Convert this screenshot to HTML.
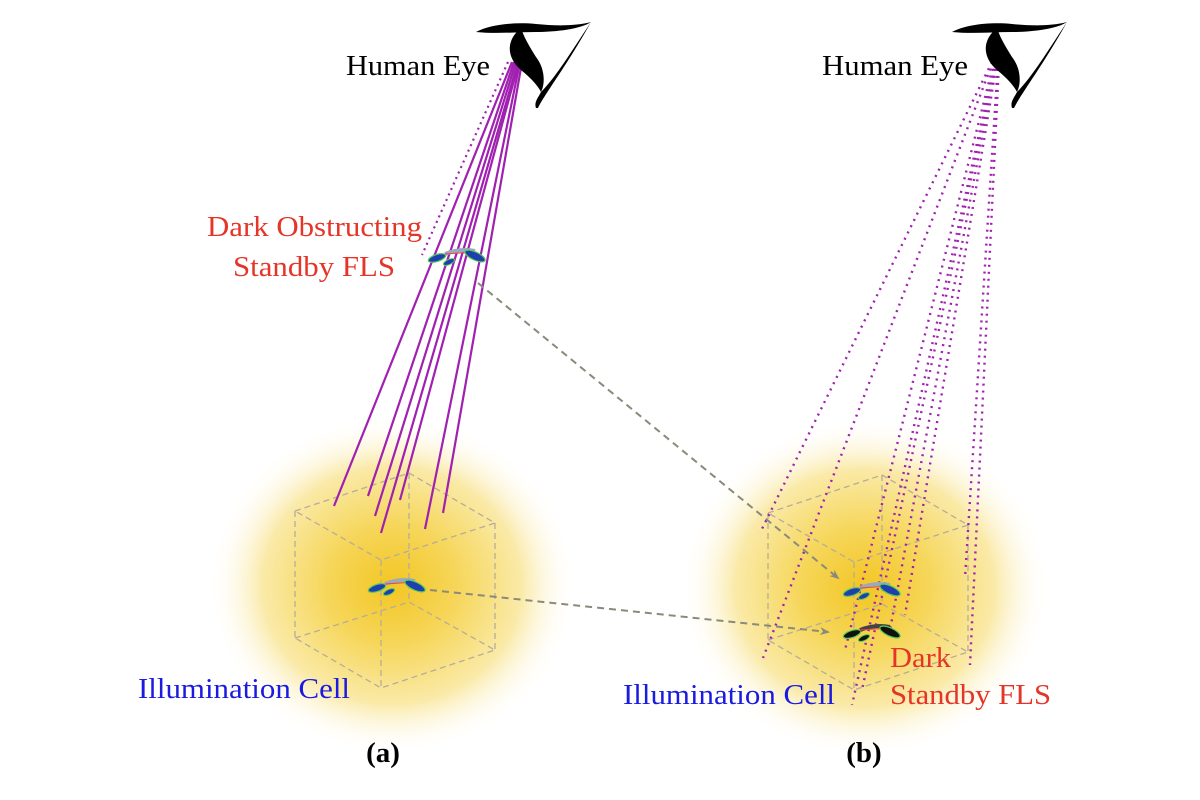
<!DOCTYPE html>
<html><head><meta charset="utf-8"><style>
html,body{margin:0;padding:0;background:#fff}
svg{display:block}
text{font-family:"Liberation Serif",serif}
</style></head><body>
<svg width="1200" height="800" viewBox="0 0 1200 800">
<defs>
<radialGradient id="glow" cx="0.5" cy="0.5" r="0.5">
<stop offset="0" stop-color="#f3c623"/>
<stop offset="0.35" stop-color="#f6d65a"/>
<stop offset="0.7" stop-color="#faeaa8"/>
<stop offset="1" stop-color="#ffffff" stop-opacity="0"/>
</radialGradient>
<marker id="arr" markerWidth="10" markerHeight="8" refX="8" refY="4" orient="auto" markerUnits="userSpaceOnUse">
<path d="M0,0 L10,4 L0,8 L3,4 Z" fill="#8a8a7a"/>
</marker>
<g id="fls">
<ellipse cx="-18" cy="4" rx="9" ry="3.5" transform="rotate(-18 -18 4)" fill="#1f3fb0" stroke="#5c5" stroke-width="1.2"/>
<ellipse cx="-6" cy="8" rx="6" ry="2.5" transform="rotate(-25 -6 8)" fill="#1f3fb0" stroke="#5c5" stroke-width="1"/>
<path d="M-10,0 Q5,-6 20,-3" stroke="#9ab" stroke-width="4" fill="none"/>
<path d="M-10,0 L20,-2" stroke="#e44" stroke-width="1"/>
<ellipse cx="20" cy="2" rx="11" ry="4" transform="rotate(25 20 2)" fill="#1f3fb0" stroke="#5c5" stroke-width="1.2"/>
</g>
<g id="eye">
<path d="M0,0 C15,-8 40,-10 60,-8 C80,-6 100,-6 115,-10 C105,-3 80,0 60,0 C40,0 20,2 0,0 Z" fill="#000"/>
<path d="M45,-4 C30,8 30,25 45,38 C55,46 62,54 65,60 C70,50 68,35 60,25 C52,12 48,5 45,-4 Z" fill="#000"/>
<path d="M115,-10 C95,20 80,45 65,60 C62,66 58,70 60,76 L62,76 C70,60 90,35 115,-10 Z" fill="#000"/>
</g>
</defs>

<ellipse cx="392" cy="585" rx="185" ry="170" fill="url(#glow)"/>
<ellipse cx="865" cy="588" rx="185" ry="170" fill="url(#glow)"/>

<g fill="none" stroke="#b5ad98" stroke-width="1.3" stroke-dasharray="6,4">
<path d="M295,511 L409,473 L495,523 L381,560 Z"/>
<path d="M295,638 L409,602 L495,650 L381,688 Z"/>
<path d="M295,511 L295,638 M409,473 L409,602 M495,523 L495,650 M381,560 L381,688"/>
</g>
<g fill="none" stroke="#b5ad98" stroke-width="1.3" stroke-dasharray="6,4" transform="translate(473,2)">
<path d="M295,511 L409,473 L495,523 L381,560 Z"/>
<path d="M295,638 L409,602 L495,650 L381,688 Z"/>
<path d="M295,511 L295,638 M409,473 L409,602 M495,523 L495,650 M381,560 L381,688"/>
</g>

<g stroke="#a020b0" stroke-width="2.2" fill="none">
<line x1="512" y1="62" x2="334" y2="506"/>
<line x1="514" y1="62" x2="368" y2="496"/>
<line x1="516" y1="62" x2="375" y2="516"/>
<line x1="518" y1="62" x2="381" y2="533"/>
<line x1="519" y1="62" x2="400" y2="500"/>
<line x1="520" y1="62" x2="425" y2="529"/>
<line x1="522" y1="62" x2="443" y2="513"/>
<line x1="508" y1="62" x2="422" y2="255" stroke-dasharray="2,4"/>
</g>
<g stroke="#a020b0" stroke-width="2.4" fill="none" stroke-dasharray="2,5">
<line x1="992" y1="62" x2="760" y2="533"/>
<line x1="993" y1="62" x2="763" y2="658"/>
<line x1="994" y1="62" x2="845" y2="650"/>
<line x1="995" y1="62" x2="852" y2="705"/>
<line x1="996" y1="62" x2="862" y2="690"/>
<line x1="996" y1="62" x2="890" y2="630"/>
<line x1="997" y1="62" x2="905" y2="615"/>
<line x1="998" y1="62" x2="965" y2="578"/>
<line x1="999" y1="62" x2="970" y2="665"/>
</g>

<line x1="478" y1="283" x2="838" y2="578" stroke="#8a8a7a" stroke-width="2" stroke-dasharray="7,5" marker-end="url(#arr)"/>
<line x1="430" y1="590" x2="828" y2="632" stroke="#8a8a7a" stroke-width="2" stroke-dasharray="7,5" marker-end="url(#arr)"/>

<use href="#fls" x="455" y="254"/>
<use href="#fls" x="395" y="584"/>
<use href="#fls" x="870" y="588"/>
<g transform="translate(870,630)">
<ellipse cx="-18" cy="4" rx="9" ry="3.5" transform="rotate(-18 -18 4)" fill="#111" stroke="#5c5" stroke-width="1.2"/>
<ellipse cx="-6" cy="8" rx="6" ry="2.5" transform="rotate(-25 -6 8)" fill="#111" stroke="#5c5" stroke-width="1"/>
<path d="M-10,0 Q5,-6 20,-3" stroke="#444" stroke-width="4" fill="none"/>
<path d="M-10,0 L20,-2" stroke="#e44" stroke-width="1"/>
<ellipse cx="20" cy="2" rx="11" ry="4" transform="rotate(25 20 2)" fill="#111" stroke="#5c5" stroke-width="1.2"/>
</g>

<use href="#eye" x="476" y="32"/>
<use href="#eye" x="952" y="32"/>

<text x="346" y="75" font-size="29" textLength="144" lengthAdjust="spacingAndGlyphs" fill="#000">Human Eye</text>
<text x="822" y="75" font-size="29" textLength="146" lengthAdjust="spacingAndGlyphs" fill="#000">Human Eye</text>
<text x="207" y="236" font-size="29" textLength="215" lengthAdjust="spacingAndGlyphs" fill="#e53528">Dark Obstructing</text>
<text x="233" y="276" font-size="29" textLength="162" lengthAdjust="spacingAndGlyphs" fill="#e53528">Standby FLS</text>
<text x="138" y="698" font-size="29" textLength="212" lengthAdjust="spacingAndGlyphs" fill="#1a1ae0">Illumination Cell</text>
<text x="623" y="704" font-size="29" textLength="212" lengthAdjust="spacingAndGlyphs" fill="#1a1ae0">Illumination Cell</text>
<text x="890" y="667" font-size="29" textLength="61" lengthAdjust="spacingAndGlyphs" fill="#e53528">Dark</text>
<text x="890" y="704" font-size="29" textLength="161" lengthAdjust="spacingAndGlyphs" fill="#e53528">Standby FLS</text>
<text x="383" y="762" font-size="29" font-weight="bold" text-anchor="middle" fill="#000">(a)</text>
<text x="864" y="762" font-size="29" font-weight="bold" text-anchor="middle" fill="#000">(b)</text>
</svg>
</body></html>
